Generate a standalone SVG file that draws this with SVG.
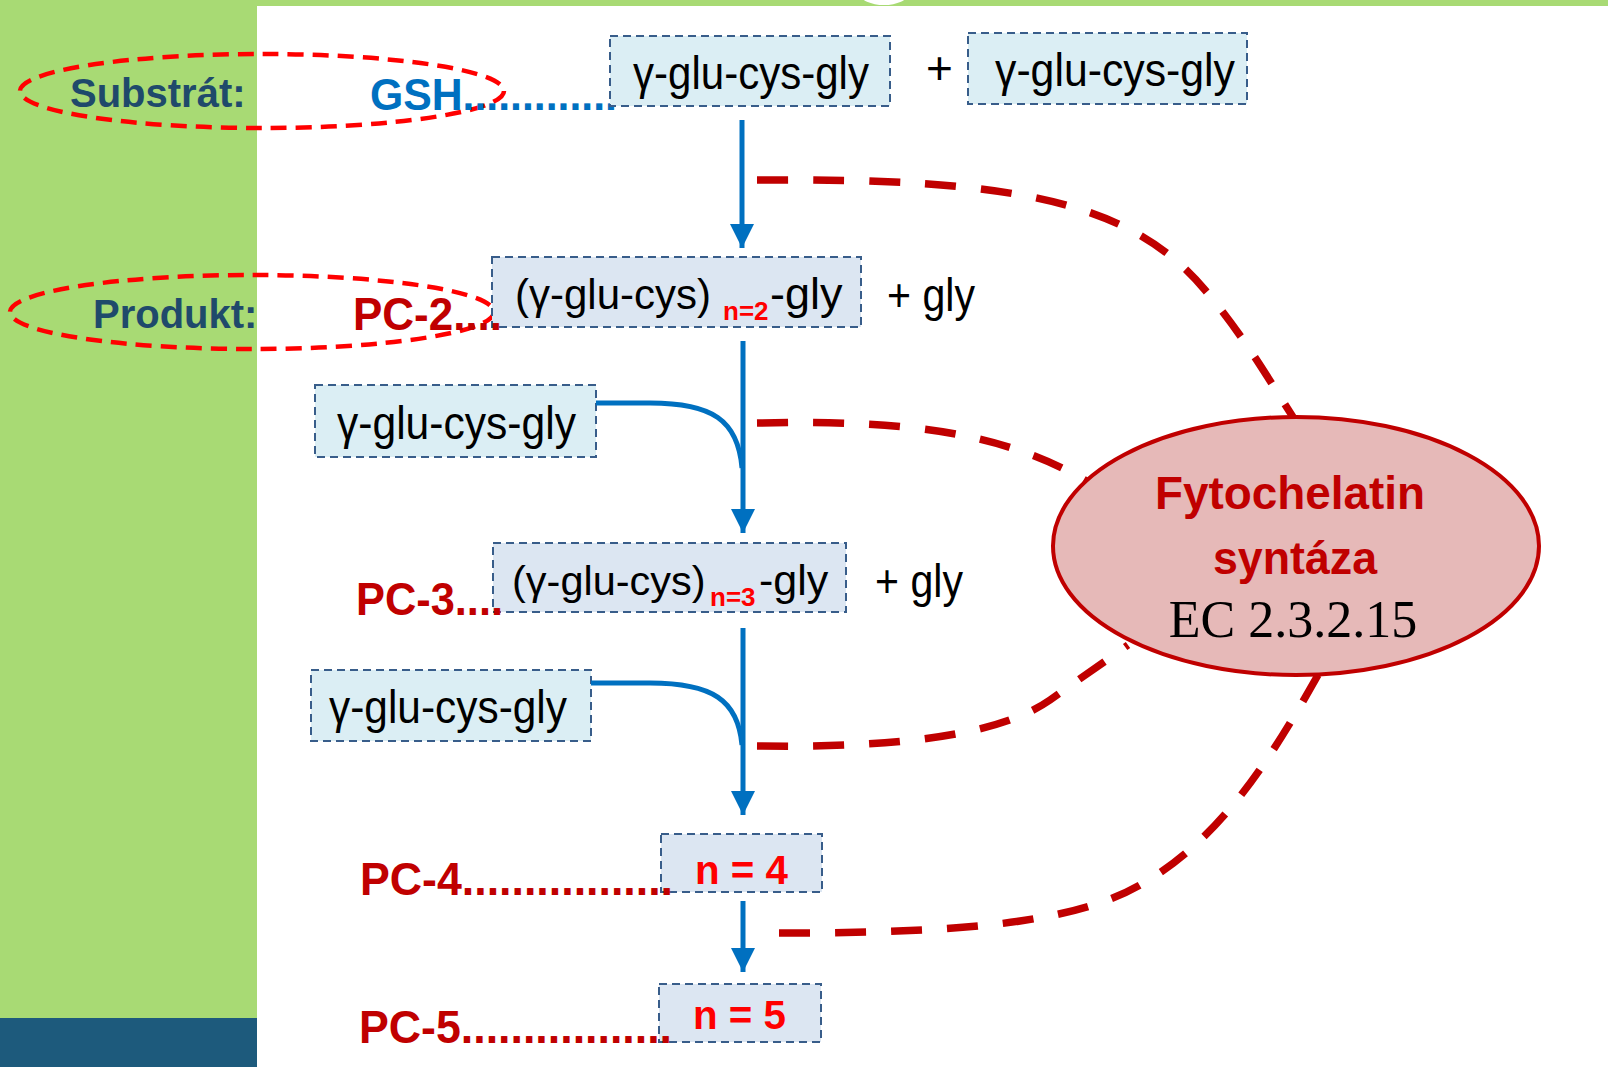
<svg xmlns="http://www.w3.org/2000/svg" width="1608" height="1067" viewBox="0 0 1608 1067">
<defs>
<style>
.bg-green{fill:#A8DA74}
.box-a{fill:#DBEEF4;stroke:#385D8A;stroke-width:2;stroke-dasharray:8 5}
.box-b{fill:#DCE6F2;stroke:#385D8A;stroke-width:2;stroke-dasharray:8 5}
.t{font-family:"Liberation Sans",Arial,sans-serif;font-size:46px;fill:#000}
.t2{font-family:"Liberation Sans",Arial,sans-serif;font-size:42px;fill:#000}
.sub{font-family:"Liberation Sans",Arial,sans-serif;font-weight:bold;font-size:26px;fill:#FF0000}
.nn{font-family:"Liberation Sans",Arial,sans-serif;font-weight:bold;font-size:40px;fill:#FF0000}
.pc{font-family:"Liberation Sans",Arial,sans-serif;font-weight:bold;font-size:47px;fill:#C00000}
.gsh{font-family:"Liberation Sans",Arial,sans-serif;font-weight:bold;font-size:45px;fill:#0070C0}
.lbl{font-family:"Liberation Sans",Arial,sans-serif;font-weight:bold;font-size:40px;fill:#1F4A6B}
.enzb{font-family:"Liberation Sans",Arial,sans-serif;font-weight:bold;font-size:47px;fill:#C00000}
.ec{font-family:"Liberation Serif","Times New Roman",serif;font-size:52px;fill:#000}
.flow{fill:none;stroke:#0070C0;stroke-width:5}
.enz{fill:none;stroke:#C00000;stroke-width:7.5;stroke-dasharray:31 25}
.ring{fill:none;stroke:#FF0000;stroke-width:4.5;stroke-dasharray:16 9}
</style>
<marker id="arr" markerUnits="userSpaceOnUse" markerWidth="24" markerHeight="24" refX="24" refY="12" orient="auto">
<path d="M0,0 L24,12 L0,24 z" fill="#0070C0"/>
</marker>
</defs>

<g id="background">
<rect x="0" y="0" width="1608" height="1067" fill="#FFFFFF"/>
<rect class="bg-green" x="0" y="0" width="257" height="1018"/>
<rect x="0" y="1018" width="257" height="49" fill="#1D5A7C"/>
<rect class="bg-green" x="257" y="0" width="1351" height="6"/>
<ellipse cx="884" cy="-6" rx="24" ry="11" fill="#FFFFFF"/>
</g>

<g id="label-substrat">
<text class="lbl" x="70" y="107">Substrát:</text>
<ellipse class="ring" cx="262" cy="91" rx="242" ry="37"/>
</g>
<g id="label-produkt">
<text class="lbl" x="93" y="328">Produkt:</text>
<ellipse class="ring" cx="252" cy="312" rx="242" ry="37"/>
</g>

<g id="gsh-label">
<text class="gsh" x="370" y="110" textLength="247" lengthAdjust="spacingAndGlyphs">GSH.............</text>
</g>

<g id="node-gsh1">
<rect class="box-a" x="610" y="36" width="280" height="70"/>
<text class="t" x="633" y="89" textLength="236" lengthAdjust="spacingAndGlyphs">γ-glu-cys-gly</text>
</g>
<g id="plus-1">
<text class="t" x="926" y="84">+</text>
</g>
<g id="node-gsh2">
<rect class="box-a" x="968" y="33" width="279" height="71"/>
<text class="t" x="995" y="86" textLength="240" lengthAdjust="spacingAndGlyphs">γ-glu-cys-gly</text>
</g>

<g id="node-pc2">
<rect class="box-b" x="492" y="257" width="369" height="70"/>
<text class="t2" x="515" y="309">(γ-glu-cys)</text>
<text class="sub" x="723" y="320">n=2</text>
<text class="t2" x="770" y="309" style="font-size:45px">-gly</text>
</g>
<g id="gly-1">
<text class="t" x="887" y="311" textLength="88" lengthAdjust="spacingAndGlyphs">+ gly</text>
</g>
<g id="pc2-label">
<text class="pc" x="353" y="330" textLength="149" lengthAdjust="spacingAndGlyphs">PC-2....</text>
</g>

<g id="node-gsh3">
<rect class="box-a" x="315" y="385" width="281" height="72"/>
<text class="t" x="337" y="439" textLength="239" lengthAdjust="spacingAndGlyphs">γ-glu-cys-gly</text>
</g>

<g id="node-pc3">
<rect class="box-b" x="493" y="543" width="353" height="69"/>
<text class="t2" x="512" y="595" style="font-size:41.5px">(γ-glu-cys)</text>
<text class="sub" x="710" y="606">n=3</text>
<text class="t2" x="759" y="595" style="font-size:43px">-gly</text>
</g>
<g id="gly-2">
<text class="t" x="875" y="597" textLength="88" lengthAdjust="spacingAndGlyphs">+ gly</text>
</g>
<g id="pc3-label">
<text class="pc" x="356" y="615" textLength="147" lengthAdjust="spacingAndGlyphs">PC-3....</text>
</g>

<g id="node-gsh4">
<rect class="box-a" x="311" y="670" width="280" height="71"/>
<text class="t" x="329" y="723" textLength="238" lengthAdjust="spacingAndGlyphs">γ-glu-cys-gly</text>
</g>

<g id="node-pc4">
<rect class="box-b" x="661" y="834" width="161" height="58"/>
<text class="nn" x="695" y="884" textLength="93" lengthAdjust="spacingAndGlyphs">n = 4</text>
</g>
<g id="pc4-label">
<text class="pc" x="360" y="895" textLength="313" lengthAdjust="spacingAndGlyphs">PC-4.................</text>
</g>

<g id="node-pc5">
<rect class="box-b" x="659" y="984" width="162" height="58"/>
<text class="nn" x="693" y="1029" textLength="93" lengthAdjust="spacingAndGlyphs">n = 5</text>
</g>
<g id="pc5-label">
<text class="pc" x="359" y="1043" textLength="313" lengthAdjust="spacingAndGlyphs">PC-5.................</text>
</g>

<g id="connectors">
<line class="flow" x1="742" y1="120" x2="742" y2="248" marker-end="url(#arr)"/>
<line class="flow" x1="743" y1="341" x2="743" y2="533" marker-end="url(#arr)"/>
<line class="flow" x1="743" y1="628" x2="743" y2="815" marker-end="url(#arr)"/>
<line class="flow" x1="743" y1="901" x2="743" y2="972" marker-end="url(#arr)"/>
<path class="flow" d="M596,403 L650,403 C712,403 738,420 742,468"/>
<path class="flow" d="M591,683 L650,683 C712,683 738,700 742,745"/>
<path class="enz" d="M757,180 C1010,178 1130,200 1205,290 C1245,337 1272,385 1293,417"/>
<path class="enz" d="M757,423 C900,420 1000,430 1088,482"/>
<path class="enz" d="M757,746 C900,748 1000,735 1050,700 C1085,675 1110,658 1128,645"/>
<path class="enz" d="M779,933 C950,933 1070,925 1140,885 C1220,840 1270,760 1318,675"/>
</g>

<g id="enzyme">
<ellipse cx="1296" cy="546" rx="243" ry="129" fill="#E6B9B8" stroke="#C00000" stroke-width="4"/>
<text class="enzb" x="1155" y="509" textLength="270" lengthAdjust="spacingAndGlyphs">Fytochelatin</text>
<text class="enzb" x="1213" y="574" textLength="164" lengthAdjust="spacingAndGlyphs">syntáza</text>
<text class="ec" x="1293" y="637" text-anchor="middle">EC 2.3.2.15</text>
</g>
</svg>
